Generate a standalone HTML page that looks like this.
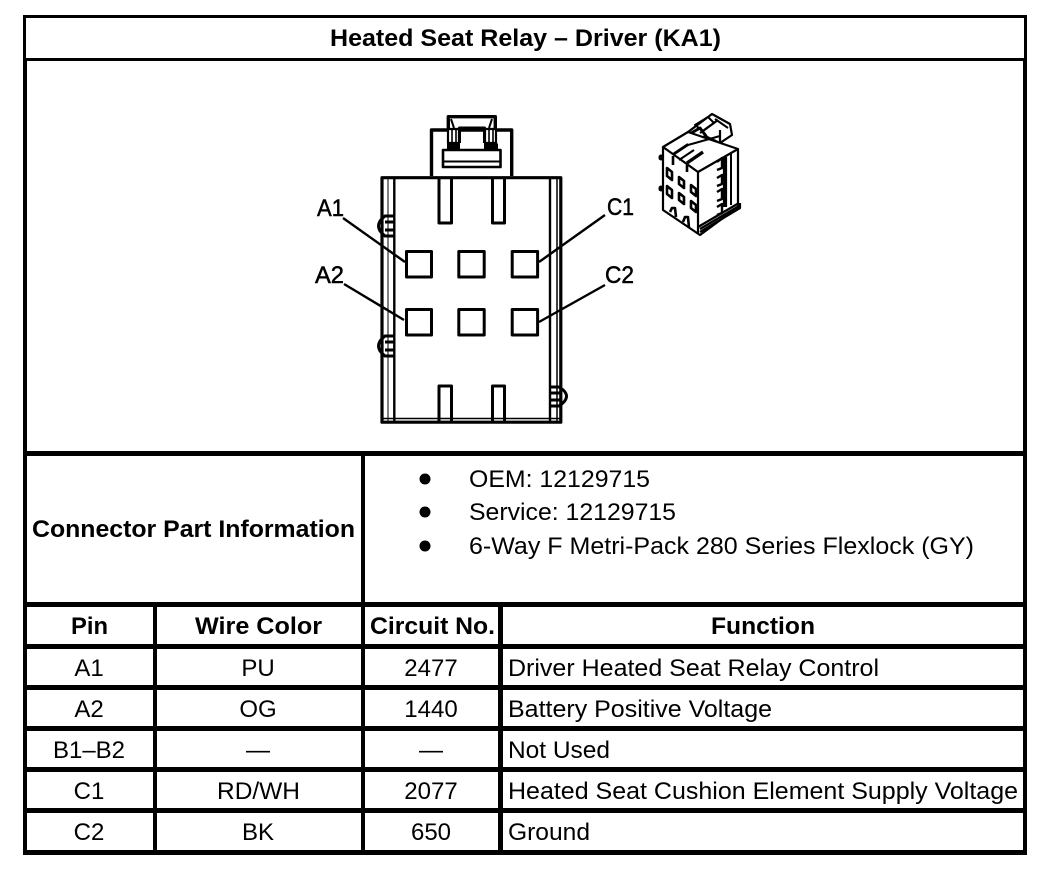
<!DOCTYPE html>
<html><head><meta charset="utf-8"><style>
html,body{margin:0;padding:0;background:#fff}
svg{display:block}
text{font-family:"Liberation Sans",sans-serif;fill:#000}
.b{font-weight:bold;font-size:24px}
.n{font-size:24px}
.m{text-anchor:middle}
.l{stroke:#000;stroke-width:.5}
</style></head><body>
<svg width="1056" height="872" viewBox="0 0 1056 872" xmlns="http://www.w3.org/2000/svg">
<rect width="1056" height="872" fill="#fff"/>
<!-- table lines -->
<g fill="#000">
<rect x="23" y="15" width="1004" height="3"/>
<rect x="23" y="58" width="1004" height="3"/>
<rect x="23" y="451" width="1004" height="5"/>
<rect x="23" y="602" width="1004" height="5"/>
<rect x="23" y="644" width="1004" height="5"/>
<rect x="23" y="685" width="1004" height="5"/>
<rect x="23" y="726" width="1004" height="5"/>
<rect x="23" y="767" width="1004" height="5"/>
<rect x="23" y="808" width="1004" height="5"/>
<rect x="23" y="850" width="1004" height="5"/>
<rect x="23" y="15" width="3" height="46"/>
<rect x="23" y="58" width="4" height="797"/>
<rect x="1024" y="15" width="3" height="46"/>
<rect x="1023" y="58" width="4" height="797"/>
<rect x="153" y="602" width="4" height="253"/>
<rect x="361" y="451" width="4" height="404"/>
<rect x="498" y="602" width="5" height="253"/>
</g>
<!-- text -->
<text class="b" x="330" y="46" textLength="391" lengthAdjust="spacingAndGlyphs">Heated Seat Relay – Driver (KA1)</text>
<text class="b" x="32" y="537" textLength="323" lengthAdjust="spacingAndGlyphs">Connector Part Information</text>
<circle cx="425" cy="479" r="5.5"/><circle cx="425" cy="512" r="5.5"/><circle cx="425" cy="546" r="5.5"/>
<text class="n" x="469" y="487" textLength="181" lengthAdjust="spacingAndGlyphs">OEM: 12129715</text>
<text class="n" x="469" y="520" textLength="207" lengthAdjust="spacingAndGlyphs">Service: 12129715</text>
<text class="n" x="469" y="554" textLength="505" lengthAdjust="spacingAndGlyphs">6-Way F Metri-Pack 280 Series Flexlock (GY)</text>

<text class="b" x="71" y="634" textLength="37" lengthAdjust="spacingAndGlyphs">Pin</text>
<text class="b" x="195" y="634" textLength="127" lengthAdjust="spacingAndGlyphs">Wire Color</text>
<text class="b" x="370" y="634" textLength="125" lengthAdjust="spacingAndGlyphs">Circuit No.</text>
<text class="b" x="711" y="634" textLength="104" lengthAdjust="spacingAndGlyphs">Function</text>

<text class="n m" x="89" y="676">A1</text><text class="n m" x="258" y="676">PU</text><text class="n m" x="431" y="676">2477</text>
<text class="n" x="508" y="676" textLength="371" lengthAdjust="spacingAndGlyphs">Driver Heated Seat Relay Control</text>
<text class="n m" x="89" y="717">A2</text><text class="n m" x="258" y="717">OG</text><text class="n m" x="431" y="717">1440</text>
<text class="n" x="508" y="717" textLength="264" lengthAdjust="spacingAndGlyphs">Battery Positive Voltage</text>
<text class="n m" x="89" y="758">B1–B2</text><text class="n m" x="258" y="758">—</text><text class="n m" x="431" y="758">—</text>
<text class="n" x="508" y="758" textLength="102" lengthAdjust="spacingAndGlyphs">Not Used</text>
<text class="n m" x="89" y="799">C1</text><text class="n" x="217" y="799" textLength="83" lengthAdjust="spacingAndGlyphs">RD/WH</text><text class="n m" x="431" y="799">2077</text>
<text class="n" x="508" y="799" textLength="510" lengthAdjust="spacingAndGlyphs">Heated Seat Cushion Element Supply Voltage</text>
<text class="n m" x="89" y="840">C2</text><text class="n m" x="258" y="840">BK</text><text class="n m" x="431" y="840">650</text>
<text class="n" x="508" y="840" textLength="82" lengthAdjust="spacingAndGlyphs">Ground</text>

<!-- connector -->
<g fill="none" stroke="#000" stroke-linejoin="round">
<!-- side clips behind body -->
<g stroke-width="3">
<path d="M394 216H385Q372 226 385 236H394M385 222H394M385 230H394"/>
<path d="M394 336H385Q372 346 385 356H394M385 342H394M385 350H394"/>
<path d="M550 387H559Q574 396 559 406H550M550 393H562M550 400H562"/>
</g>
<!-- body -->
<rect x="382" y="177.7" width="178.8" height="244.5" stroke-width="3.2"/>
<path d="M394.3 178V421M550 178V421" stroke-width="2.4"/>
<path d="M557 178V421" stroke-width="1.5"/>
<path d="M388 178V421" stroke-width="1"/>
<path d="M382 418.5H560" stroke-width="1.5"/>
<!-- top tab -->
<path d="M431.5 176V130H511.7V176" stroke-width="3.4"/>
<path d="M448.3 129V116.7H495.3V129" stroke-width="3.4"/>
<path d="M451 119L454 128M492 119L489 128" stroke-width="2"/>
<path d="M459.5 143V128H484.5V143" stroke-width="3"/>
<path d="M443 150H500.5V167H443Z" stroke-width="2.6" fill="#fff"/>
<path d="M443 161.5H501" stroke-width="2"/>
<rect x="448" y="129" width="11" height="14" stroke-width="2.2" fill="#fff"/>
<rect x="485" y="129" width="11" height="14" stroke-width="2.2" fill="#fff"/>
<path d="M452 130V142M456 130V142M489 130V142M493 130V142" stroke-width="1.6"/>
<path d="M447 146.5H460M484 146.5H498" stroke-width="6"/>
<!-- top slots -->
<path d="M439 179V223H451.5V179M492.5 179V223H504.5V179" stroke-width="3"/>
<!-- bottom slots -->
<path d="M439 421V386H451.5V421M492.5 421V386H504.5V421" stroke-width="3"/>
<!-- contacts -->
<g stroke-width="3">
<rect x="406.5" y="251.5" width="25" height="25.5"/>
<rect x="458.8" y="251.5" width="25.4" height="25.5"/>
<rect x="512.2" y="251.5" width="25.4" height="25.5"/>
<rect x="406.5" y="309.5" width="25" height="25.5"/>
<rect x="458.8" y="309.5" width="25.4" height="25.5"/>
<rect x="512.2" y="309.5" width="25.4" height="25.5"/>
</g>
<!-- leaders -->
<path d="M343 218L405 262M344 284L404 320M605 215L539 262M605 285L539 322" stroke-width="2.4"/>
<!-- iso view -->
<g stroke-width="2.2">
<!-- plug on top -->
<path d="M688 132L712 114L730 124L732 135L720 143L705 136L690 146L682 138Z" fill="#fff"/>
<path d="M695 125L708 117L714 123L703 131ZM715 119L728 128" stroke-width="2"/>
<path d="M700 133L718 120M692 138L701 142M720 130V142" stroke-width="2.2"/>
<path d="M686 136L700 128L706 136L692 145Z" stroke-width="3"/>
<!-- body -->
<path d="M663 147L688 132L738 149V207L700 235L663 210Z" fill="#fff"/>
<path d="M663 147L698 172L738 149M698 172V234" stroke-width="2.2"/>
<path d="M673 155L688 145L720 136" stroke-width="2"/>
<path d="M673 156V165M687 165V172" stroke-width="2.6"/>
<path d="M687 163L703 152" stroke-width="3.4"/>
<path d="M673 154L688 144M679 160L694 150" stroke-width="2"/>
<path d="M661 157V158M661 188V189" stroke-width="5" stroke-linecap="round"/>
<!-- right face -->
<path d="M725 157V207" stroke-width="4.2"/>
<path d="M731 153V205" stroke-width="2"/>
<path d="M717 162L722 158V168L717 170M717 178L722 175V184L717 186M717 192L722 189V199L717 201M717 207L722 204V213L717 215" stroke-width="2.4"/>
<!-- rails -->
<path d="M698 227L739 203M700 232L740 208L740 203M700 229L739 206" stroke-width="2.2"/>
<!-- windows -->
<g stroke-width="2.6">
<path d="M667 168L672 172V180L667 176Z"/>
<path d="M667 186L672 190V198L667 194Z"/>
<path d="M679 177L684 181V188L679 184Z"/>
<path d="M679 193L684 197V204L679 200Z"/>
<path d="M691 185L696 189V196L691 192Z"/>
<path d="M691 201L696 205V212L691 208Z"/>
</g>
<!-- bottom notches -->
<path d="M670 212L672 208H675L676 217M683 222L685 217H688L689 228" stroke-width="2.6"/>
</g>
</g>
<text class="n l" x="317" y="216" textLength="27" lengthAdjust="spacingAndGlyphs">A1</text>
<text class="n l" x="315" y="283" textLength="29" lengthAdjust="spacingAndGlyphs">A2</text>
<text class="n l" x="607" y="215" textLength="27" lengthAdjust="spacingAndGlyphs">C1</text>
<text class="n l" x="605" y="283" textLength="29" lengthAdjust="spacingAndGlyphs">C2</text>
</svg>
</body></html>
